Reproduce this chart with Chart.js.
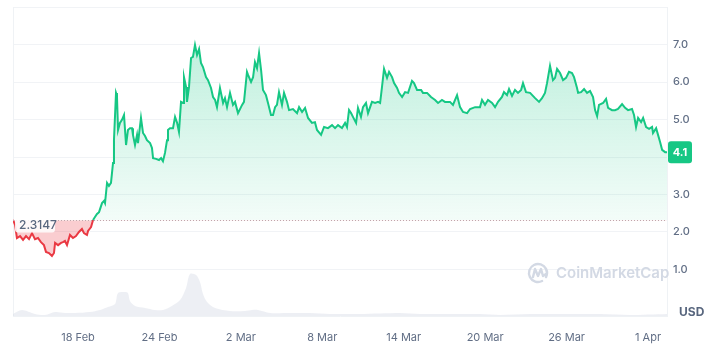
<!DOCTYPE html>
<html>
<head>
<meta charset="utf-8">
<script src="https://cdn.jsdelivr.net/npm/chart.js@4.4.1/dist/chart.umd.min.js"></script>
<style>
  html, body { margin: 0; padding: 0; background: #fff; }
</style>
</head>
<body>
<canvas id="chart" width="712" height="346"></canvas>
<script>
// price history (x = day counted from 0 Feb, y = USD)
const priceDays = [
  13.21, 13.36, 13.50, 13.73, 13.95, 14.17, 14.39, 14.61, 14.83, 15.05, 15.27, 15.49, 15.64, 15.86, 16.08, 16.23,
  16.31, 16.53, 16.75, 16.89, 17.04, 17.19, 17.41, 17.63, 17.85, 18.07, 18.29, 18.44, 18.66, 18.74, 18.96, 19.11,
  19.25, 19.40, 19.55, 19.77, 19.92, 19.99, 20.14, 20.28, 20.43, 20.58, 20.65, 20.80, 20.87, 20.95, 21.09, 21.24,
  21.39, 21.54, 21.68, 21.83, 21.98, 22.05, 22.20, 22.35, 22.42, 22.64, 22.79, 22.94, 23.08, 23.31, 23.45, 23.53,
  23.75, 23.97, 24.12, 24.26, 24.41, 24.56, 24.63, 24.78, 25.00, 25.15, 25.30, 25.44, 25.59, 25.74, 25.81, 25.96,
  26.03, 26.18, 26.33, 26.47, 26.62, 26.77, 26.92, 27.06, 27.21, 27.43, 27.58, 27.80, 27.95, 28.10, 28.24, 28.46,
  28.69, 28.83, 28.98, 29.20, 29.42, 29.57, 29.79, 30.09, 30.23, 30.45, 30.53, 30.75, 30.90, 31.04, 31.19, 31.34,
  31.49, 31.63, 31.85, 32.00, 32.22, 32.37, 32.52, 32.66, 32.81, 33.03, 33.18, 33.40, 33.55, 33.84, 34.14, 34.29,
  34.51, 34.73, 34.95, 35.24, 35.46, 35.61, 35.91, 36.13, 36.42, 36.72, 36.94, 37.16, 37.45, 37.68, 37.82, 37.97,
  38.12, 38.26, 38.49, 38.63, 38.85, 39.00, 39.22, 39.37, 39.66, 39.89, 40.11, 40.26, 40.40, 40.55, 40.77, 40.92,
  41.14, 41.29, 41.51, 41.65, 41.88, 42.10, 42.32, 42.61, 42.76, 42.98, 43.28, 43.42, 43.72, 44.01, 44.31, 44.53,
  44.82, 45.04, 45.41, 45.63, 45.93, 46.15, 46.37, 46.67, 46.89, 47.26, 47.62, 47.77, 47.99, 48.21, 48.51, 48.73,
  48.95, 49.24, 49.39, 49.61, 49.76, 49.98, 50.20, 50.42, 50.65, 50.79, 51.01, 51.31, 51.68, 51.97, 52.19, 52.41,
  52.56, 52.78, 53.00, 53.15, 53.30, 53.52, 53.74, 53.96, 54.18, 54.40, 54.55, 54.77, 54.85, 55.07, 55.29, 55.51,
  55.73, 55.95, 56.10, 56.25, 56.39, 56.69, 56.91, 57.06, 57.35, 57.57, 57.79, 58.09, 58.31, 58.53, 58.82, 58.97,
  59.12, 59.27, 59.49, 59.64, 59.86, 60.08, 60.30, 60.37, 60.60, 60.74, 60.89, 61.04, 61.26, 61.40
];
const priceValues = [
  2.32, 2.19, 1.84, 1.89, 1.79, 1.89, 1.81, 1.97, 1.81, 1.84, 1.73, 1.65, 1.47, 1.44, 1.36, 1.44,
  1.71, 1.65, 1.71, 1.73, 1.76, 1.65, 1.92, 1.84, 1.89, 2.00, 2.08, 1.97, 1.92, 2.03, 2.13, 2.32,
  2.40, 2.48, 2.53, 2.77, 2.83, 2.77, 3.31, 3.23, 3.31, 3.84, 4.45, 5.71, 5.63, 4.72, 4.91, 4.99,
  5.12, 4.32, 4.72, 4.77, 4.77, 4.59, 4.32, 4.59, 4.37, 5.04, 4.64, 4.56, 4.45, 4.37, 4.24, 3.97,
  3.95, 3.92, 3.97, 3.89, 4.11, 4.45, 4.72, 4.77, 4.77, 5.07, 4.91, 4.67, 5.47, 5.44, 6.13, 5.87,
  5.47, 5.87, 6.64, 6.67, 6.99, 6.72, 6.88, 6.51, 6.40, 6.13, 6.05, 5.84, 5.60, 5.52, 5.33, 5.84,
  5.44, 5.57, 5.33, 5.71, 5.39, 5.47, 5.17, 5.39, 5.47, 6.27, 6.19, 6.00, 6.13, 6.53, 6.37, 6.77,
  6.32, 5.79, 5.65, 5.44, 5.12, 5.12, 5.33, 5.39, 5.73, 5.39, 5.71, 5.47, 5.25, 5.28, 5.17, 5.33,
  5.20, 5.31, 5.04, 4.91, 4.93, 4.72, 4.59, 4.80, 4.77, 4.85, 4.77, 4.85, 4.77, 4.91, 4.80, 5.25,
  5.17, 5.07, 4.91, 5.31, 5.07, 5.33, 5.44, 5.17, 5.47, 5.44, 5.47, 5.44, 5.87, 6.35, 6.11, 6.27,
  6.13, 5.97, 5.84, 5.71, 5.60, 5.73, 5.71, 6.03, 5.97, 5.79, 5.79, 5.71, 5.71, 5.60, 5.52, 5.44,
  5.52, 5.47, 5.47, 5.39, 5.65, 5.33, 5.20, 5.17, 5.28, 5.33, 5.33, 5.52, 5.39, 5.52, 5.44, 5.33,
  5.47, 5.60, 5.73, 5.65, 5.81, 5.63, 5.79, 5.71, 5.79, 5.97, 5.73, 5.71, 5.57, 5.47, 5.57, 5.71,
  5.97, 6.43, 6.05, 6.11, 6.35, 6.24, 6.05, 6.11, 6.27, 6.24, 6.13, 5.84, 5.71, 5.73, 5.81, 5.71,
  5.76, 5.60, 5.25, 5.09, 5.39, 5.44, 5.55, 5.31, 5.25, 5.25, 5.28, 5.41, 5.31, 5.25, 5.28, 5.12,
  4.80, 5.04, 4.93, 5.04, 4.80, 4.75, 4.80, 4.64, 4.77, 4.59, 4.40, 4.19, 4.13, 4.13
];

// trading volume (millions USD)
const volumeDays = [
  13.21, 13.87, 14.83, 15.57, 16.31, 17.04, 17.78, 18.88, 19.62, 20.21, 20.73, 20.95, 21.46, 21.68, 21.83, 22.20,
  22.94, 23.67, 24.26, 24.78, 25.52, 25.96, 26.25, 26.70, 26.99, 27.21, 27.51, 28.10, 29.20, 30.31, 30.82, 31.26,
  32.15, 33.62, 35.10, 36.57, 38.78, 41.73, 43.20, 45.41, 47.62, 49.10, 51.31, 53.52, 56.47, 58.68, 61.40
];
const volumeValues = [
  6, 18, 6, 3, 12, 9, 9, 12, 18, 27, 36, 69, 72, 69, 45, 30,
  24, 18, 18, 27, 48, 84, 126, 123, 102, 66, 42, 24, 15, 15, 18, 18,
  9, 9, 9, 6, 6, 9, 6, 6, 6, 3, 6, 6, 6, 3, 6
];

const tickDays = [18, 24, 30, 36, 42, 48, 54, 60];
const tickLabels = ['18 Feb', '24 Feb', '2 Mar', '8 Mar', '14 Mar', '20 Mar', '26 Mar', '1 Apr'];
const priceTicks = [1, 2, 3, 4, 5, 6, 7, 8];
const openPrice = 2.3147;
const lastLabel = '4.1';

const GREEN = '#16c784';
const RED = '#ea3943';
const TEXT = '#616e85';
const FONT = 'Inter, "Noto Sans", sans-serif';

const extras = {
  id: 'extras',
  beforeDatasetsDraw(chart) {
    const { ctx, chartArea: a } = chart;
    ctx.save();
    // left frame line
    ctx.strokeStyle = '#eff2f5';
    ctx.lineWidth = 1;
    ctx.beginPath();
    ctx.moveTo(a.left + 0.5, a.top);
    ctx.lineTo(a.left + 0.5, a.bottom);
    ctx.stroke();

    // watermark
    const cx = 538, cy = 273;
    ctx.strokeStyle = '#d3d9e4';
    ctx.lineWidth = 2.4;
    ctx.lineCap = 'round';
    ctx.lineJoin = 'round';
    ctx.beginPath();
    ctx.arc(cx, cy, 9, 0.35 * Math.PI, 2.15 * Math.PI);
    ctx.stroke();
    ctx.beginPath();
    ctx.moveTo(cx - 5, cy + 4);
    ctx.lineTo(cx - 3, cy - 4);
    ctx.lineTo(cx, cy + 3);
    ctx.lineTo(cx + 3, cy - 4);
    ctx.lineTo(cx + 5, cy + 3);
    ctx.lineTo(cx + 8, cy + 1);
    ctx.stroke();
    ctx.fillStyle = '#d3d9e4';
    ctx.font = '600 15px ' + FONT;
    ctx.textBaseline = 'middle';
    ctx.fillText('CoinMarketCap', 556, cy);
    ctx.restore();
  },
  afterDatasetsDraw(chart) {
    const { ctx, chartArea: a, scales } = chart;
    const yb = Math.round(scales.y.getPixelForValue(openPrice)) + 0.5;
    ctx.save();
    // dotted open-price line
    ctx.strokeStyle = '#bfa6ab';
    ctx.lineWidth = 1;
    ctx.setLineDash([1, 2]);
    ctx.beginPath();
    ctx.moveTo(a.left, yb);
    ctx.lineTo(a.right, yb);
    ctx.stroke();
    ctx.setLineDash([]);

    // open price label
    ctx.fillStyle = 'rgba(255,255,255,0.85)';
    ctx.beginPath();
    ctx.roundRect(15, yb - 2, 40, 14, 3);
    ctx.fill();
    ctx.fillStyle = '#58667e';
    ctx.font = '500 12px ' + FONT;
    ctx.textBaseline = 'middle';
    ctx.textAlign = 'left';
    ctx.fillText(openPrice.toString(), 19, yb + 4.5);

    // last price badge
    const yl = scales.y.getPixelForValue(priceValues[priceValues.length - 1]);
    ctx.fillStyle = GREEN;
    ctx.beginPath();
    ctx.roundRect(a.right + 1, yl - 11, 24, 22, 3);
    ctx.fill();
    ctx.fillStyle = '#fff';
    ctx.font = '700 11px ' + FONT;
    ctx.textAlign = 'center';
    ctx.fillText(lastLabel, a.right + 13, yl + 0.5);

    // currency
    ctx.fillStyle = '#58667e';
    ctx.font = '700 12px ' + FONT;
    ctx.textAlign = 'left';
    ctx.fillText('USD', 679, 312);
    ctx.restore();
  }
};

new Chart(document.getElementById('chart'), {
  type: 'line',
  data: {
    datasets: [
      {
        data: priceDays.map((d, i) => ({ x: d, y: priceValues[i] })),
        yAxisID: 'y',
        borderColor: GREEN,
        borderWidth: 2,
        pointRadius: 0,
        tension: 0,
        order: 1,
        segment: {
          borderColor: c => (c.p0.parsed.y < openPrice || c.p1.parsed.y < openPrice) ? RED : GREEN
        },
        fill: { target: { value: openPrice }, below: 'rgba(234,57,67,0.25)' },
        backgroundColor: c => {
          const chart = c.chart;
          if (!chart.chartArea) return 'rgba(22,199,132,0.15)';
          const y = chart.scales.y;
          const g = chart.ctx.createLinearGradient(0, y.getPixelForValue(7), 0, y.getPixelForValue(openPrice));
          g.addColorStop(0, 'rgba(22,199,132,0.27)');
          g.addColorStop(1, 'rgba(22,199,132,0.05)');
          return g;
        }
      },
      {
        data: volumeDays.map((d, i) => ({ x: d, y: volumeValues[i] })),
        yAxisID: 'yVol',
        borderWidth: 0,
        pointRadius: 0,
        tension: 0.3,
        order: 2,
        fill: 'origin',
        backgroundColor: 'rgba(215,220,230,0.45)'
      }
    ]
  },
  options: {
    responsive: false,
    animation: false,
    layout: { padding: { left: 13, top: 7, right: 0, bottom: 0 } },
    plugins: { legend: { display: false }, tooltip: { enabled: false } },
    scales: {
      x: {
        type: 'linear',
        min: 13.21,
        max: 61.4,
        afterBuildTicks: ax => { ax.ticks = tickDays.map(v => ({ value: v })); },
        afterFit: ax => { ax.height = 30; ax.paddingLeft = 0; ax.paddingRight = 0; },
        grid: { display: false },
        border: { display: true, color: '#eff2f5' },
        ticks: {
          autoSkip: false,
          maxRotation: 0,
          padding: 7,
          color: TEXT,
          font: { family: FONT, size: 11 },
          callback: v => tickLabels[tickDays.indexOf(v)]
        }
      },
      y: {
        position: 'right',
        min: -0.24,
        max: 8,
        afterBuildTicks: ax => { ax.ticks = priceTicks.map(v => ({ value: v })); },
        afterFit: ax => { ax.width = 45; ax.paddingTop = 0; ax.paddingBottom = 0; },
        grid: { color: '#f1f3f6', drawTicks: false },
        border: { display: true, color: '#eff2f5' },
        ticks: {
          padding: 6,
          color: TEXT,
          font: { family: FONT, size: 11, weight: '500' },
          callback: v => (v === 4 || v === 8) ? '' : v.toFixed(1)
        }
      },
      yVol: { display: false, min: 0, max: 927 }
    }
  },
  plugins: [extras]
});
</script>
</body>
</html>
